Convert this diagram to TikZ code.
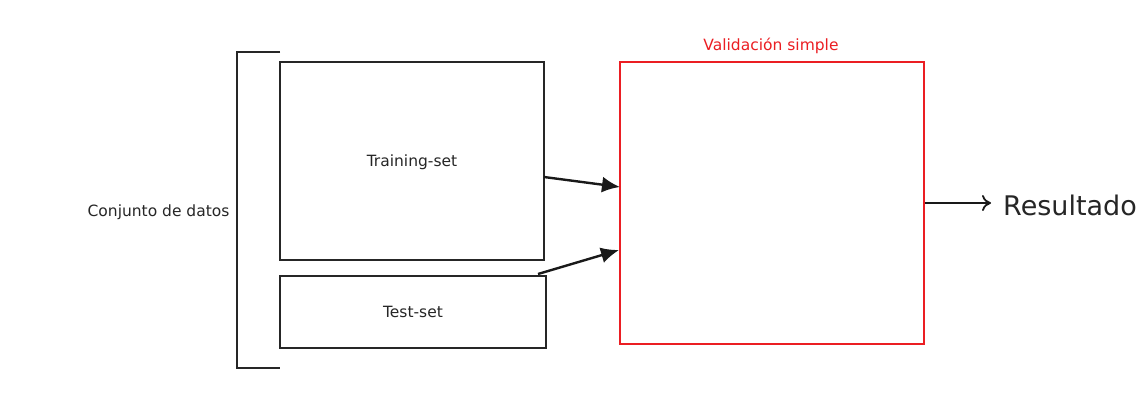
\documentclass[tikz,border=0pt]{standalone}
\usepackage{fontspec}
\setmainfont{DejaVu Sans}
\usetikzlibrary{arrows.meta}
\definecolor{valred}{RGB}{235,30,35}
\begin{document}
\begin{tikzpicture}[x=1pt,y=-1pt,
  box/.style={draw=black!85,line width=2pt,inner sep=0pt},
  lbl/.style={font=\fontsize{15.5}{18}\selectfont,text=black!85},
  conn/.style={line width=2.4pt,black!90,-{Latex[length=18pt,width=16pt]}}]
  \useasboundingbox[fill=white] (0,0) rectangle (1141,392);

  % data set bracket
  \coordinate (bt) at (280,52);
  \coordinate (bb) at (280,368);
  \draw[line width=2pt,black!85] (bt) -- (237,52) -- (237,368) -- (bb);
  \node[lbl,anchor=east] (datos) at (233,212) {Conjunto de datos};

  % training and test partitions
  \node[box,minimum width=264pt,minimum height=198pt] (train) at (412,161) {};
  \node[lbl] (trainlbl) at (412,162) {Training-set};
  \node[box,minimum width=266pt,minimum height=72pt] (test) at (413,312) {};
  \node[lbl] (testlbl) at (413,312) {Test-set};

  % validation block
  \node[draw=valred,line width=2pt,minimum width=304pt,minimum height=282pt,inner sep=0pt] (val) at (772,203) {};
  \node[lbl,text=valred] (vallbl) at (771,46) {Validación simple};

  % connectors
  \coordinate (tr1) at (544,177);
  \coordinate (v1) at (620,187);
  \coordinate (te1) at (538,274);
  \coordinate (v2) at (619,250);
  \draw[conn] (tr1) -- (v1);
  \draw[conn] (te1) -- (v2);

  % result
  \node[anchor=west,font=\fontsize{27}{30}\selectfont,text=black!85,inner sep=0pt] (res) at (1003,205) {Resultado};
  \coordinate (resin) at (991,203);
  \draw[line width=1.8pt,black!90,-{To[length=9pt,width=16pt]}] (val.east |- resin) -- (resin);
\end{tikzpicture}
\end{document}
